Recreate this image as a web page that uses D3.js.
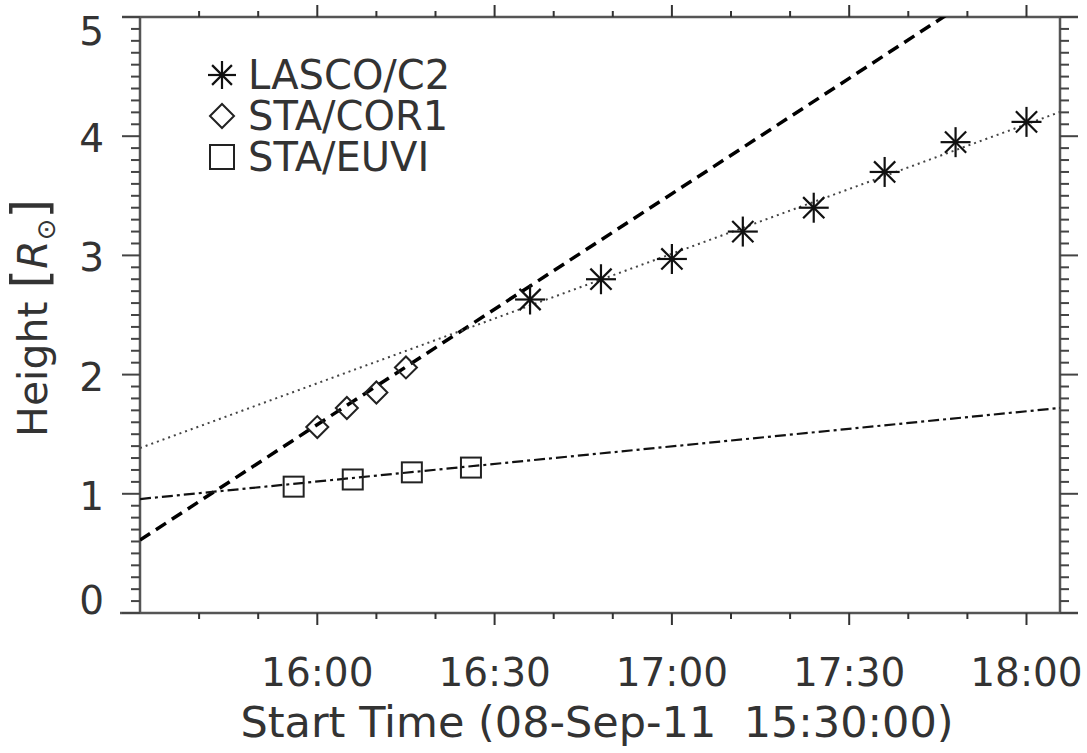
<html>
<head>
    <title>Height-time</title>
    <script src="https://cdnjs.cloudflare.com/ajax/libs/d3/7.8.5/d3.min.js"></script>
    <style>
        body { margin: 0; background: #fff; }
        text { font-family: "DejaVu Sans", sans-serif; fill: #333; }
    </style>
</head>
<body>
    <svg width="1087" height="753"></svg>
    <script>
        // observation times (08-Sep-11) and heights in solar radii
        var lascoTimes = ["16:36", "16:48", "17:00", "17:12", "17:24", "17:36", "17:48", "18:00"];
        var lascoHeights = [2.63, 2.80, 2.97, 3.20, 3.40, 3.70, 3.95, 4.12];

        var cor1Times = ["16:00", "16:05", "16:10", "16:15"];
        var cor1Heights = [1.56, 1.72, 1.85, 2.06];

        var euviTimes = ["15:56", "16:06", "16:16", "16:26"];
        var euviHeights = [1.06, 1.12, 1.18, 1.22];

        // fitted lines: height at 15:30 and slope in Rsun per minute
        var fitNames = ["dashed", "dotted", "dashdot"];
        var fitStart = [0.612, 1.384, 0.956];
        var fitSlope = [0.03228, 0.01811, 0.00491];

        var legendNames = ["LASCO/C2", "STA/COR1", "STA/EUVI"];
        var legendSymbols = ["asterisk", "diamond", "square"];

        var xMajorLabels = ["16:00", "16:30", "17:00", "17:30", "18:00"];
        var yTicks = [0, 1, 2, 3, 4, 5];

        var parseT = d3.timeParse("%Y-%m-%d %H:%M");
        var day = "2011-09-08 ";
        var t0 = parseT(day + "15:30");
        var t1 = new Date(t0.getTime() + 155.67 * 60000);

        var pLeft = 140, pRight = 1060, pTop = 17, pBottom = 613;
        var svg = d3.select("svg");

        var x = d3.scaleTime().domain([t0, t1]).range([pLeft, pRight]);
        var y = d3.scaleLinear().domain([0, 5]).range([pBottom, pTop]);

        var axisColor = "#555";

        // frame lines
        svg.append("line").attr("x1", 120).attr("x2", 1078).attr("y1", pBottom).attr("y2", pBottom)
            .attr("stroke", axisColor).attr("stroke-width", 2.5);
        svg.append("line").attr("x1", 122).attr("x2", 1078).attr("y1", pTop).attr("y2", pTop)
            .attr("stroke", axisColor).attr("stroke-width", 2.5);
        svg.append("line").attr("x1", pLeft).attr("x2", pLeft).attr("y1", pTop).attr("y2", pBottom)
            .attr("stroke", axisColor).attr("stroke-width", 2.5);
        svg.append("line").attr("x1", pRight).attr("x2", pRight).attr("y1", pTop).attr("y2", pBottom)
            .attr("stroke", axisColor).attr("stroke-width", 2.5);

        // x ticks (every 10 min, major every 30 min)
        var xt = x.ticks(d3.timeMinute.every(10));
        xt.forEach(function(d) {
            var major = d.getMinutes() % 30 == 0;
            var len = major ? 12 : 6;
            if (d.getTime() == t0.getTime()) return;
            svg.append("line").attr("x1", x(d)).attr("x2", x(d)).attr("y1", pBottom).attr("y2", pBottom + len)
                .attr("stroke", "#333").attr("stroke-width", 2);
            svg.append("line").attr("x1", x(d)).attr("x2", x(d)).attr("y1", pTop).attr("y2", pTop - len)
                .attr("stroke", "#333").attr("stroke-width", 2);
        });

        svg.selectAll("text.xlab").data(xMajorLabels).enter()
            .append("text").attr("class", "xlab")
            .attr("x", d => x(parseT(day + d)))
            .attr("y", 686)
            .attr("text-anchor", "middle")
            .attr("font-size", 39)
            .text(d => d);

        // y ticks (every 0.1, major every 1)
        d3.range(0, 51).forEach(function(i) {
            var major = i % 10 == 0;
            var len = major ? 18 : 9;
            var yy = y(i / 10);
            svg.append("line").attr("x1", pLeft).attr("x2", pLeft - len).attr("y1", yy).attr("y2", yy)
                .attr("stroke", "#444").attr("stroke-width", 2);
            svg.append("line").attr("x1", pRight).attr("x2", pRight + len).attr("y1", yy).attr("y2", yy)
                .attr("stroke", "#444").attr("stroke-width", 2);
        });

        svg.selectAll("text.ylab").data(yTicks).enter()
            .append("text").attr("class", "ylab")
            .attr("x", 104)
            .attr("y", d => Math.min(Math.max(y(d) + 2, 31), 600) + 14)
            .attr("text-anchor", "end")
            .attr("font-size", 39)
            .text(d => d);

        // axis titles
        svg.append("text")
            .attr("x", 597).attr("y", 737)
            .attr("text-anchor", "middle")
            .attr("font-size", 43)
            .text("Start Time (08-Sep-11\u00a0 15:30:00)");

        var yt = svg.append("text")
            .attr("transform", "translate(47,318) rotate(-90)")
            .attr("text-anchor", "middle")
            .attr("font-size", 41);
        yt.append("tspan").text("Height ");
        yt.append("tspan").attr("font-size", 50).text("[");
        yt.append("tspan").attr("font-style", "italic").text("R");
        yt.append("tspan").attr("font-size", 26).attr("dy", 8).text("\u2299");
        yt.append("tspan").attr("font-size", 50).attr("dy", -8).text("]");

        // fit lines
        svg.append("clipPath").attr("id", "plot")
            .append("rect").attr("x", pLeft).attr("y", pTop).attr("width", pRight - pLeft).attr("height", pBottom - pTop);

        var dashes = { dashed: "12,7", dotted: "2,4", dashdot: "11,4,3,4" };
        var widths = { dashed: 3.5, dotted: 2, dashdot: 2.2 };
        var colors = { dashed: "#000", dotted: "#444", dashdot: "#111" };

        fitNames.forEach(function(name, i) {
            var ends = [t0, t1].map(function(t) {
                var m = (t - t0) / 60000;
                return [x(t), y(fitStart[i] + fitSlope[i] * m)];
            });
            svg.append("path")
                .attr("d", d3.line()(ends))
                .attr("clip-path", "url(#plot)")
                .attr("fill", "none")
                .attr("stroke", colors[name])
                .attr("stroke-width", widths[name])
                .attr("stroke-dasharray", dashes[name]);
        });

        // symbols
        function asterisk(g, cx, cy, r) {
            [0, 45, 90, 135].forEach(function(a) {
                var rad = a * Math.PI / 180;
                g.append("line")
                    .attr("x1", cx - r * Math.cos(rad)).attr("y1", cy - r * Math.sin(rad))
                    .attr("x2", cx + r * Math.cos(rad)).attr("y2", cy + r * Math.sin(rad))
                    .attr("stroke", "#111").attr("stroke-width", 2.2);
            });
        }
        function diamond(g, cx, cy, r) {
            g.append("path")
                .attr("d", "M" + (cx - r) + "," + cy + "L" + cx + "," + (cy - r) + "L" + (cx + r) + "," + cy + "L" + cx + "," + (cy + r) + "Z")
                .attr("fill", "none").attr("stroke", "#222").attr("stroke-width", 2);
        }
        function square(g, cx, cy, r) {
            g.append("rect").attr("x", cx - r).attr("y", cy - r).attr("width", 2 * r).attr("height", 2 * r)
                .attr("fill", "none").attr("stroke", "#222").attr("stroke-width", 2);
        }
        var drawers = { asterisk: asterisk, diamond: diamond, square: square };

        var marks = svg.append("g");
        lascoTimes.forEach(function(t, i) { asterisk(marks, x(parseT(day + t)), y(lascoHeights[i]), 15); });
        cor1Times.forEach(function(t, i) { diamond(marks, x(parseT(day + t)), y(cor1Heights[i]), 11); });
        euviTimes.forEach(function(t, i) { square(marks, x(parseT(day + t)), y(euviHeights[i]), 10); });

        // legend
        var leg = svg.append("g");
        legendNames.forEach(function(name, i) {
            var cy = 75 + i * 41;
            drawers[legendSymbols[i]](leg, 222, cy, legendSymbols[i] == "asterisk" ? 14 : 12);
            leg.append("text").attr("x", 248).attr("y", cy + 14)
                .attr("font-size", 40)
                .text(name);
        });
    </script>
</body>
</html>
